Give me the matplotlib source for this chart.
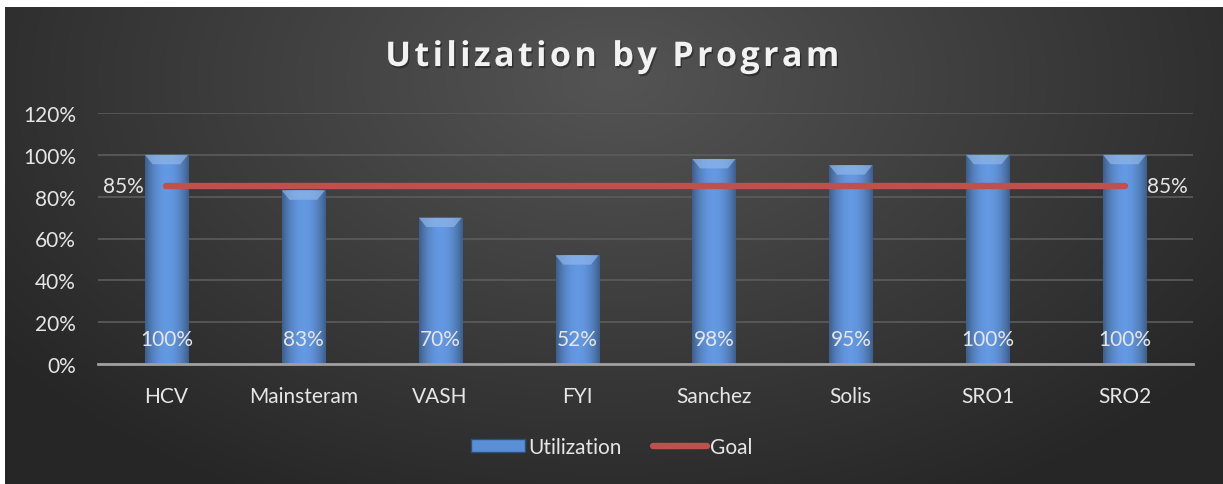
import numpy as np
import matplotlib.pyplot as plt
import matplotlib.patheffects as pe
from matplotlib.patches import Polygon, Rectangle
from matplotlib.lines import Line2D

programs = ["HCV", "Mainsteram", "VASH", "FYI", "Sanchez", "Solis", "SRO1", "SRO2"]
utilization = [1.00, 0.83, 0.70, 0.52, 0.98, 0.95, 1.00, 1.00]
goal = [0.85, 0.85, 0.85, 0.85, 0.85, 0.85, 0.85, 0.85]
yticks = [0, 0.2, 0.4, 0.6, 0.8, 1.0, 1.2]

plt.rcParams['font.family'] = ['Lato', 'DejaVu Sans']
txt = '#e6e6e6'
fs = 15

fig = plt.figure(figsize=(12.23, 4.85), dpi=100, facecolor='white')

# dark radial background
bg = fig.add_axes([5/1223, 0, 1 - 5/1223, 477/485])
bg.set_axis_off()
yy, xx = np.mgrid[0:1:300j, 0:1:600j]
r = np.sqrt(((xx - 0.5) * 1.6) ** 2 + ((yy - 0.15) * 1.0) ** 2)
r = np.clip(r / 1.0, 0, 1)
c0, c1 = np.array([0.33, 0.33, 0.33]), np.array([0.15, 0.15, 0.15])
img = c0 + (c1 - c0) * r[..., None]
bg.imshow(img, extent=[0, 1, 0, 1], origin='upper', aspect='auto')

ax = fig.add_axes([98/1223, 120/485, 1095/1223, 251/485])
ax.patch.set_alpha(0)
x = np.arange(len(programs))
ax.set_xlim(-0.5, len(programs) - 0.5)
ax.set_ylim(0, 1.2)

ax.set_yticks(yticks)
ax.set_yticklabels([f"{int(round(t*100))}%" for t in yticks])
ax.set_xticks(x)
ax.set_xticklabels(programs)
ax.tick_params(length=0, colors=txt, labelsize=fs)
ax.tick_params(axis='y', pad=16)
ax.tick_params(axis='x', pad=16)
ax.grid(axis='y', color='#5c5c5c', linewidth=1.2)
ax.set_axisbelow(True)
for s in ['top', 'right', 'left']:
    ax.spines[s].set_visible(False)
ax.spines['bottom'].set_color('#a0a0a0')
ax.spines['bottom'].set_linewidth(2)
ax.spines['bottom'].set_zorder(5)

# bars with cylinder-like shading
bars = ax.bar(x, utilization, width=0.315, color='#4a7fc4', edgecolor='#2d4f7c',
              linewidth=0.8, zorder=2)
prof = np.linspace(-1, 1, 64)
shade = 1 - 0.4 * prof ** 2
base = np.array([0.36, 0.57, 0.86])
grad = np.clip(base[None, :] * shade[:, None] + 0.03, 0, 1)[None, :, :]
for b in bars:
    x0, w, h = b.get_x(), b.get_width(), b.get_height()
    im = ax.imshow(grad, extent=[x0, x0 + w, 0, h], aspect='auto', zorder=2.1)
    im.set_clip_path(b)
    bev = 0.045
    dx = w * 0.18
    ax.add_patch(Polygon([[x0, h], [x0 + w, h], [x0 + w - dx, h - bev], [x0 + dx, h - bev]],
                         closed=True, facecolor='#8fb6e8', edgecolor='none', alpha=0.7, zorder=2.2))
    ax.text(x0 + w / 2, 0.12, f"{int(round(h*100))}%", ha='center', va='center',
            color=txt, fontsize=fs, zorder=4)

# goal line
ax.plot(x, goal, color='#c0504d', linewidth=4.6, solid_capstyle='round', zorder=3)
ax.text(x[0] - 0.165, goal[0], f"{int(goal[0]*100)}%", ha='right', va='center',
        color=txt, fontsize=fs, zorder=4)
ax.text(x[-1] + 0.165, goal[-1], f"{int(goal[-1]*100)}%", ha='left', va='center',
        color=txt, fontsize=fs, zorder=4)

title = "\u200a".join("Utilization by Program")
t = fig.text(0.5, 1 - 58/485, title, ha='center', va='center',
             color='#f2f2f2', fontsize=24.5, fontweight='bold', family=['Open Sans', 'DejaVu Sans'])
t.set_path_effects([pe.withSimplePatchShadow(offset=(1, -1.5), shadow_rgbFace='black', alpha=0.35)])

handles = [Rectangle((0, 0), 1, 1, facecolor='#5a8fd6', edgecolor='#2d4f7c'),
           Line2D([0], [0], color='#c0504d', linewidth=4.6, solid_capstyle='round')]
leg = fig.legend(handles, ["Utilization", "Goal"], loc='center', bbox_to_anchor=(0.5, 1 - 448/485),
                 ncol=2, frameon=False, fontsize=fs, handlelength=2.6, handleheight=0.6,
                 handletextpad=0.15, columnspacing=1.5, labelcolor=txt)

fig.savefig("out.png", dpi=100, facecolor='white')
